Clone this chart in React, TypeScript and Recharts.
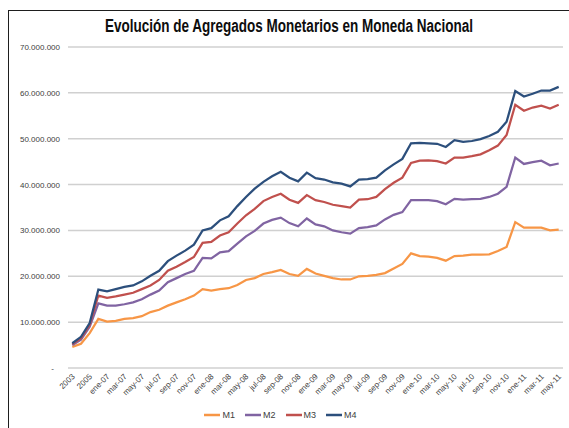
import { CartesianGrid, Legend, Line, LineChart, XAxis, YAxis } from "recharts";

const categories = [
  "2003", "2004", "2005", "2006",
  "ene-07", "feb-07", "mar-07", "abr-07", "may-07", "jun-07", "jul-07", "ago-07", "sep-07", "oct-07", "nov-07", "dic-07",
  "ene-08", "feb-08", "mar-08", "abr-08", "may-08", "jun-08", "jul-08", "ago-08", "sep-08", "oct-08", "nov-08", "dic-08",
  "ene-09", "feb-09", "mar-09", "abr-09", "may-09", "jun-09", "jul-09", "ago-09", "sep-09", "oct-09", "nov-09", "dic-09",
  "ene-10", "feb-10", "mar-10", "abr-10", "may-10", "jun-10", "jul-10", "ago-10", "sep-10", "oct-10", "nov-10", "dic-10",
  "ene-11", "feb-11", "mar-11", "abr-11", "may-11",
];

// values in millions
const m1 = [
  4.6, 5.3, 7.6, 10.7, 10.1, 10.3, 10.7, 10.9, 11.3, 12.2, 12.7, 13.6, 14.3, 15.0, 15.8, 17.2,
  16.9, 17.2, 17.4, 18.1, 19.2, 19.6, 20.5, 20.9, 21.4, 20.5, 20.1, 21.6,
  20.6, 20.1, 19.6, 19.3, 19.3, 20.0, 20.1, 20.3, 20.7, 21.7, 22.7, 25.0,
  24.4, 24.3, 24.0, 23.4, 24.4, 24.5, 24.7, 24.7, 24.8, 25.5, 26.4, 31.8,
  30.6, 30.6, 30.6, 30.0, 30.2,
];
const m2 = [
  5.0, 6.2, 9.0, 14.1, 13.6, 13.6, 13.9, 14.3, 15.0, 16.0, 16.9, 18.7, 19.6, 20.5, 21.2, 24.0,
  23.9, 25.2, 25.5, 27.1, 28.7, 29.9, 31.5, 32.3, 32.8, 31.6, 30.9, 32.6,
  31.3, 30.9, 30.0, 29.6, 29.3, 30.5, 30.7, 31.1, 32.4, 33.4, 34.0, 36.6,
  36.6, 36.6, 36.4, 35.7, 36.9, 36.7, 36.8, 36.9, 37.3, 38.0, 39.5, 45.9,
  44.5, 44.9, 45.2, 44.2, 44.6,
];
const m3 = [
  5.2, 6.5, 9.4, 15.8, 15.3, 15.6, 16.0, 16.4, 17.2, 18.0, 19.2, 21.2, 22.1, 23.1, 24.2, 27.3,
  27.5, 28.9, 29.6, 31.5, 33.3, 34.7, 36.4, 37.3, 38.0, 36.7, 36.0, 37.7,
  36.6, 36.2, 35.6, 35.3, 35.0, 36.7, 36.8, 37.3, 39.0, 40.4, 41.5, 44.7,
  45.2, 45.3, 45.1, 44.6, 45.9, 45.9, 46.2, 46.6, 47.5, 48.5, 50.8, 57.4,
  56.1, 56.8, 57.2, 56.6, 57.4,
];
const m4 = [
  5.4, 6.8, 9.8, 17.1, 16.7, 17.2, 17.7, 18.0, 18.9, 20.1, 21.2, 23.3, 24.5, 25.6, 26.9, 30.0,
  30.5, 32.2, 33.1, 35.3, 37.3, 39.1, 40.6, 41.8, 42.8, 41.5, 40.7, 42.6,
  41.4, 41.1, 40.5, 40.2, 39.6, 41.1, 41.2, 41.5, 43.1, 44.4, 45.6, 49.0,
  49.1, 49.0, 48.9, 48.2, 49.7, 49.3, 49.5, 49.9, 50.6, 51.5, 53.7, 60.4,
  59.2, 59.8, 60.5, 60.5, 61.3,
];

const yTicks = [0, 10000000, 20000000, 30000000, 40000000, 50000000, 60000000, 70000000];

const SERIES = [
  { key: "M1", color: "#f79646" },
  { key: "M2", color: "#8064a2" },
  { key: "M3", color: "#c0504d" },
  { key: "M4", color: "#2c4f7c" },
];

const data = categories.map((c, i) => ({
  name: c,
  M1: m1[i] * 1e6,
  M2: m2[i] * 1e6,
  M3: m3[i] * 1e6,
  M4: m4[i] * 1e6,
}));

const FONT = "'Liberation Sans Narrow', 'Liberation Sans', Arial, sans-serif";

const fmt = (v: number) =>
  String(Math.round(v)).replace(/\B(?=(\d{3})+(?!\d))/g, ".");

function YTick({ x, y, payload }: any) {
  const v = payload.value;
  return (
    <text
      x={v === 0 ? x - 6 : x}
      y={y}
      dy={3}
      textAnchor="end"
      fontSize={8}
      fontFamily={FONT}
      fill="#404040"
    >
      {v === 0 ? "-" : fmt(v)}
    </text>
  );
}

function XTick({ x, y, payload }: any) {
  const tx = x + 3;
  const ty = y + 5;
  return (
    <text
      x={tx}
      y={ty}
      transform={`rotate(-45 ${tx} ${ty})`}
      textAnchor="end"
      fontSize={8}
      fontFamily={FONT}
      fill="#404040"
    >
      {payload.value}
    </text>
  );
}

function LegendBox() {
  return (
    <div
      style={{
        display: "flex",
        justifyContent: "center",
        alignItems: "center",
        height: 14,
        fontFamily: FONT,
        fontSize: 9,
        color: "#404040",
      }}
    >
      {SERIES.map((s) => (
        <span
          key={s.key}
          style={{ display: "flex", alignItems: "center", marginRight: 10 }}
        >
          <svg width={16} height={6} style={{ marginRight: 2 }}>
            <line x1={0} y1={3} x2={16} y2={3} stroke={s.color} strokeWidth={2.5} />
          </svg>
          {s.key}
        </span>
      ))}
    </div>
  );
}

export default function App() {
  return (
    <div
      style={{
        position: "absolute",
        left: 0,
        top: 0,
        width: 569,
        height: 428,
        overflow: "hidden",
        background: "#fff",
      }}
    >
      <div
        style={{
          position: "absolute",
          left: 8,
          top: 10,
          width: 620,
          height: 500,
          borderTop: "1.5px solid #1e1e1e",
          borderLeft: "1.5px solid #1e1e1e",
        }}
      />
      <LineChart
        width={569}
        height={428}
        data={data}
        margin={{ top: 47, right: 6, bottom: 6, left: 8 }}
      >
        <CartesianGrid
          horizontal={true}
          vertical={false}
          stroke="#d0d0d0"
          strokeWidth={1.5}
        />
        <XAxis
          dataKey="name"
          interval={1}
          axisLine={false}
          tickLine={false}
          tickSize={0}
          tickMargin={4}
          height={40}
          padding={{ left: 4.3, right: 4.3 }}
          tick={<XTick />}
        />
        <YAxis
          domain={[0, 70000000]}
          ticks={yTicks}
          axisLine={false}
          tickLine={false}
          tickSize={0}
          tickMargin={8}
          width={60}
          tick={<YTick />}
        />
        <Legend verticalAlign="bottom" height={14} content={<LegendBox />} />
        {SERIES.map((s) => (
          <Line
            key={s.key}
            type="linear"
            dataKey={s.key}
            stroke={s.color}
            strokeWidth={2.25}
            dot={false}
            isAnimationActive={false}
          />
        ))}
      </LineChart>
      <svg
        width={569}
        height={45}
        style={{ position: "absolute", left: 0, top: 0, pointerEvents: "none" }}
      >
        <text
          x={105}
          y={24.6}
          transform="scale(1, 1.3)"
          fontSize={13.8}
          fontWeight={700}
          fontFamily={FONT}
          fill="#0d0d0d"
          textLength={368}
          lengthAdjust="spacingAndGlyphs"
        >
          Evolución de Agregados Monetarios en Moneda Nacional
        </text>
      </svg>
    </div>
  );
}
